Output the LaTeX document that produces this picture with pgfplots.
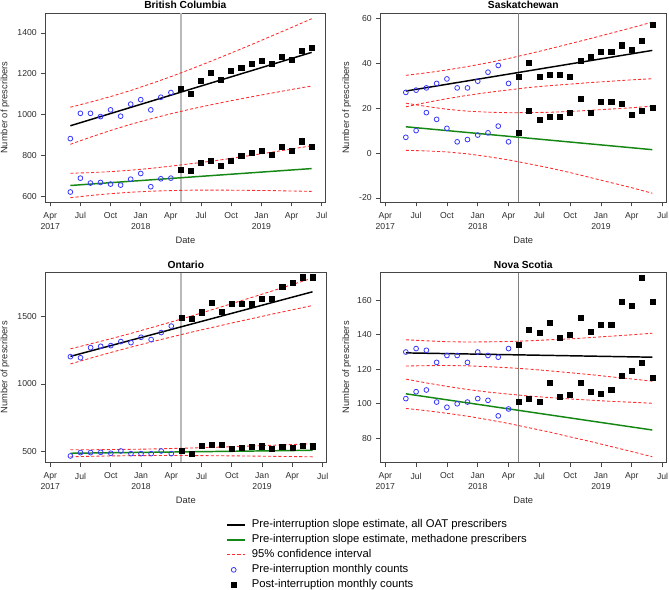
\documentclass[border=0pt]{standalone}
\usepackage{fontspec}
\setmainfont{Liberation Sans}
\usepackage{pgfplots}
\pgfplotsset{compat=1.18}
\definecolor{axiscol}{RGB}{70,70,70}
\definecolor{tickcol}{RGB}{45,45,45}
\definecolor{preblue}{RGB}{55,55,255}
\definecolor{mgreen}{RGB}{20,135,20}
\definecolor{cired}{RGB}{255,45,45}
\definecolor{vlgray}{RGB}{185,185,185}
\definecolor{vdgray}{RGB}{130,130,130}
\pgfplotsset{
  panel/.style={
    scale only axis,
    xmin=-0.45, xmax=27.33,
    xtick={0,3,...,27},
    xticklabels={{Apr\\2017},Jul,Oct,{Jan\\2018},Apr,Jul,Oct,{Jan\\2019},Apr,Jul},
    xticklabel style={align=center, font=\fontsize{6.5}{8.25}\selectfont, text=tickcol, yshift=-1.2pt},
    yticklabel style={font=\fontsize{6.5}{8}\selectfont, text=tickcol},
    tick align=outside, tick pos=left, major tick length=3.2pt,
    axis line style={axiscol, line width=0.6pt},
    every tick/.style={axiscol, line width=0.6pt},
    xlabel=Date, ylabel=Number of prescribers,
    label style={font=\fontsize{7}{8}\selectfont, text=tickcol},
    xlabel style={at={(axis description cs:0.5,0)}, anchor=base, yshift=-31pt},
    title style={font=\bfseries\fontsize{7.7}{9}\selectfont, at={(axis description cs:0.5,1)}, anchor=base, yshift=-2.6pt},
    /pgf/number format/assume math mode=true,
    /pgf/number format/1000 sep={},
  },
  lineleg/.style={legend image code/.code={\draw[##1] (0pt,0pt) -- (13.7pt,0pt);}},
  oat/.style={black, line width=1.1pt, lineleg},
  meth/.style={mgreen, line width=1.1pt, lineleg},
  ci/.style={cired, line width=0.65pt, dash pattern=on 2.3pt off 1.6pt, lineleg},
  pre/.style={only marks, mark=o, mark size=1.8pt, preblue, mark options={line width=0.6pt},
    legend image code/.code={\draw[mark repeat=2,mark phase=2,##1] plot coordinates {(0pt,0pt) (5pt,0pt) (10pt,0pt)};}},
  post/.style={only marks, mark=square*, mark size=1.9pt, black,
    legend image code/.code={\draw[mark repeat=2,mark phase=2,##1] plot coordinates {(0pt,0pt) (5pt,0pt) (10pt,0pt)};}},
}
\begin{document}
\begin{tikzpicture}
\useasboundingbox (0,0) rectangle (501.75pt,-442.5pt);
% ---------------- British Columbia
\begin{axis}[panel, at={(34.28pt,-151.5pt)}, anchor=south west,
  width=209.5pt, height=141.5pt, ymin=571, ymax=1496.5,
  ytick={600,800,1000,1200,1400}, title={British Columbia},
  ylabel style={at={(axis description cs:-0.1457,0.5)}, anchor=center}]
\addplot[vlgray, line width=1.5pt, forget plot] coordinates {(13,571) (13,1496.5)};
\addplot[oat] coordinates {(2,945) (26,1305)};
\addplot[meth] coordinates {(2,652) (26,735)};
\addplot[ci] coordinates {(2,1036)(4,1061)(6,1088)(8,1118)(10,1151)(12,1186)(14,1223)(16,1262)(18,1302)(20,1343)(22,1385)(24,1427)(26,1470)};
\addplot[ci] coordinates {(2,854)(4,889)(6,922)(8,952)(10,979)(12,1004)(14,1027)(16,1048)(18,1068)(20,1087)(22,1105)(24,1123)(26,1140)};
\addplot[ci] coordinates {(2,712)(4,715)(6,720)(8,727)(10,736)(12,747)(14,759)(16,771)(18,785)(20,800)(22,815)(24,831)(26,847)};
\addplot[ci] coordinates {(2,592)(4,603)(6,612)(8,619)(10,624)(12,627)(14,629)(16,629)(18,629)(20,628)(22,627)(24,625)(26,623)};
\addplot[pre] coordinates {(2,882)(3,1006)(4,1006)(5,990)(6,1023)(7,992)(8,1051)(9,1073)(10,1023)(11,1085)(12,1108)};
\addplot[post] coordinates {(13,1127)(14,1103)(15,1168)(16,1207)(17,1171)(18,1217)(19,1229)(20,1250)(21,1266)(22,1247)(23,1282)(24,1269)(25,1315)(26,1327)};
\addplot[pre] coordinates {(2,620)(3,688)(4,664)(5,667)(6,659)(7,654)(8,683)(9,711)(10,646)(11,685)(12,688)};
\addplot[post] coordinates {(13,731)(14,724)(15,762)(16,771)(17,747)(18,775)(19,799)(20,814)(21,822)(22,802)(23,843)(24,822)(25,869)(26,840)};
\end{axis}
% ---------------- Saskatchewan
\begin{axis}[panel, at={(285.5pt,-151.5pt)}, anchor=south west,
  width=214pt, height=141.5pt, ymin=-21.8, ymax=62.2,
  ytick={-20,0,20,40,60}, title={Saskatchewan},
  ylabel style={at={(axis description cs:-0.119,0.5)}, anchor=center}]
\addplot[vdgray, line width=0.7pt, forget plot] coordinates {(13,-21.8) (13,62.2)};
\addplot[oat] coordinates {(2,27.6) (26,45.7)};
\addplot[meth] coordinates {(2,11.7) (26,1.5)};
\addplot[ci] coordinates {(2,34.6)(4,35.7)(6,37.0)(8,38.5)(10,40.2)(12,42.1)(14,44.2)(16,46.4)(18,48.7)(20,51.0)(22,53.4)(24,55.8)(26,58.3)};
\addplot[ci] coordinates {(2,20.6)(4,22.5)(6,24.2)(8,25.7)(10,27.0)(12,28.1)(14,29.2)(16,30.0)(18,30.7)(20,31.4)(22,32.0)(24,32.6)(26,33.1)};
\addplot[ci] coordinates {(2,22.2)(4,20.75)(6,19.5)(8,18.65)(10,18.2)(12,17.95)(14,18.0)(16,18.15)(18,18.5)(20,19.05)(22,19.6)(24,20.15)(26,20.9)};
\addplot[ci] coordinates {(2,1.2)(4,0.95)(6,0.5)(8,-0.35)(10,-1.6)(12,-3.05)(14,-4.8)(16,-6.65)(18,-8.7)(20,-10.95)(22,-13.2)(24,-15.45)(26,-17.9)};
\addplot[pre] coordinates {(2,27)(3,28)(4,29)(5,31)(6,33)(7,29)(8,29)(9,32)(10,36)(11,39)(12,31)};
\addplot[post] coordinates {(13,34)(14,40)(15,34)(16,35)(17,35)(18,34)(19,41)(20,43)(21,45)(22,45)(23,48)(24,46)(25,50)(26,57)};
\addplot[pre] coordinates {(2,7)(3,10)(4,18)(5,15)(6,11)(7,5)(8,6)(9,8)(10,9)(11,12)(12,5)};
\addplot[post] coordinates {(13,9)(14,19)(15,15)(16,16)(17,16)(18,18)(19,24)(20,18)(21,23)(22,23)(23,22)(24,17)(25,19)(26,20)};
\end{axis}
% ---------------- Ontario (carries the legend)
\begin{axis}[panel, at={(34.28pt,-346.7pt)}, anchor=south west,
  width=210.2pt, height=142.2pt, ymin=418, ymax=1827,
  ytick={500,1000,1500}, title={Ontario},
  ylabel style={at={(axis description cs:-0.1457,0.5)}, anchor=center},
  legend style={draw=none, fill=none, at={(axis description cs:0.6435,-0.2935)}, anchor=north west,
    font=\fontsize{8.45}{10}\selectfont, inner sep=0pt, row sep=1.25pt, column sep=3.3pt,
    nodes={inner sep=1pt, text height=6.2pt, text depth=1.8pt, text=black}},
  legend cell align=left]
\addplot[vlgray, line width=1.5pt, forget plot] coordinates {(13,418) (13,1827)};
\addplot[oat] coordinates {(2,1205) (26,1685)};
\addlegendentry{Pre-interruption slope estimate, all OAT prescribers}
\addplot[meth] coordinates {(2,485) (26,507)};
\addlegendentry{Pre-interruption slope estimate, methadone prescribers}
\addplot[ci] coordinates {(2,1261)(4,1298)(6,1336)(8,1376)(10,1418)(12,1461)(14,1505)(16,1551)(18,1597)(20,1644)(22,1691)(24,1739)(26,1787)};
\addlegendentry{95\% confidence interval}
\addplot[ci, forget plot] coordinates {(2,1149)(4,1192)(6,1234)(8,1274)(10,1312)(12,1349)(14,1385)(16,1419)(18,1453)(20,1486)(22,1519)(24,1551)(26,1583)};
\addplot[ci, forget plot] coordinates {(2,511)(4,511.2)(6,512.3)(8,514.1)(10,516.7)(12,520.2)(14,524.2)(16,528.7)(18,533.7)(20,538.8)(22,544.2)(24,549.8)(26,555.5)};
\addplot[ci, forget plot] coordinates {(2,459)(4,462.4)(6,465.1)(8,466.9)(10,467.9)(12,468.2)(14,467.8)(16,466.9)(18,465.7)(20,464.2)(22,462.4)(24,460.6)(26,458.5)};
\addplot[pre] coordinates {(2,1203)(3,1195)(4,1270)(5,1280)(6,1285)(7,1315)(8,1307)(9,1347)(10,1330)(11,1382)(12,1430)};
\addlegendentry{Pre-interruption monthly counts}
\addplot[post] coordinates {(13,1492)(14,1483)(15,1533)(16,1604)(17,1537)(18,1594)(19,1594)(20,1592)(21,1632)(22,1635)(23,1723)(24,1752)(25,1793)(26,1793)};
\addlegendentry{Post-interruption monthly counts}
\addplot[pre, forget plot] coordinates {(2,465)(3,490)(4,490)(5,492)(6,485)(7,502)(8,482)(9,482)(10,482)(11,502)(12,482)};
\addplot[post, forget plot] coordinates {(13,502)(14,482)(15,542)(16,549)(17,549)(18,519)(19,527)(20,532)(21,537)(22,519)(23,534)(24,527)(25,542)(26,537)};
\end{axis}
% ---------------- Nova Scotia
\begin{axis}[panel, at={(285.5pt,-346.7pt)}, anchor=south west,
  width=214pt, height=142.2pt, ymin=66.1, ymax=176,
  ytick={80,100,120,140,160}, title={Nova Scotia},
  ylabel style={at={(axis description cs:-0.119,0.5)}, anchor=center}]
\addplot[vdgray, line width=0.7pt, forget plot] coordinates {(13,66.1) (13,176)};
\addplot[oat] coordinates {(2,129.5) (26,127.0)};
\addplot[meth] coordinates {(2,105.8) (26,84.8)};
\addplot[ci] coordinates {(2,137.1)(4,136.5)(6,136.0)(8,135.8)(10,135.9)(12,136.1)(14,136.5)(16,137.1)(18,137.6)(20,138.4)(22,139.2)(24,140.0)(26,140.9)};
\addplot[ci] coordinates {(2,121.9)(4,122.1)(6,122.2)(8,122.0)(10,121.5)(12,120.9)(14,120.1)(16,119.1)(18,118.0)(20,116.9)(22,115.6)(24,114.4)(26,113.1)};
\addplot[ci] coordinates {(2,114.3)(4,112.1)(6,110.1)(8,108.3)(10,106.8)(12,105.6)(14,104.5)(16,103.6)(18,102.8)(20,102.1)(22,101.4)(24,100.9)(26,100.3)};
\addplot[ci] coordinates {(2,97.3)(4,96.0)(6,94.5)(8,92.8)(10,90.8)(12,88.6)(14,86.1)(16,83.6)(18,80.8)(20,78.1)(22,75.2)(24,72.3)(26,69.3)};
\addplot[pre] coordinates {(2,130)(3,132)(4,131)(5,124)(6,128)(7,128)(8,124)(9,130)(10,128)(11,127)(12,132)};
\addplot[post] coordinates {(13,134)(14,143)(15,141)(16,147)(17,138)(18,140)(19,150)(20,142)(21,146)(22,146)(23,159)(24,157)(25,173.3)(26,159)};
\addplot[pre] coordinates {(2,103)(3,107)(4,108)(5,101)(6,98)(7,100)(8,101)(9,103)(10,102)(11,93)(12,97)};
\addplot[post] coordinates {(13,101)(14,103)(15,101)(16,112)(17,104)(18,105)(19,112)(20,107)(21,106)(22,108)(23,116)(24,119)(25,124)(26,115)};
\end{axis}
\end{tikzpicture}
\end{document}
